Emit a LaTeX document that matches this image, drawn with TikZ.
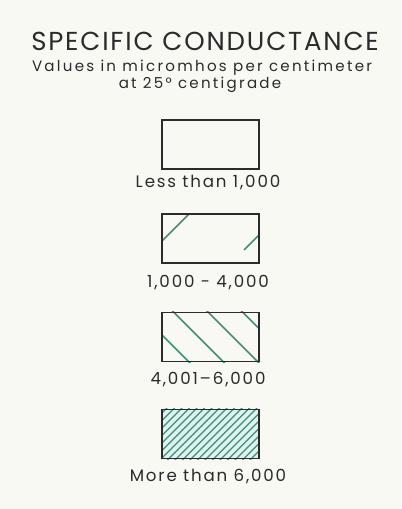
\documentclass[tikz,border=0pt]{standalone}
\usepackage{fontspec}
\setmainfont{Poppins}
\newfontfamily\lettering[LetterSpace=7]{Poppins}
\newfontfamily\smalllettering[LetterSpace=11]{Poppins}
\newfontfamily\widelettering[LetterSpace=15]{Poppins}
\usetikzlibrary{positioning}
\definecolor{paper}{HTML}{F9F9F4}
\definecolor{ink}{HTML}{2B2B2B}
\definecolor{sea}{HTML}{3F8F78}
\definecolor{wash}{HTML}{DDF3EF}

\begin{document}
\begin{tikzpicture}[x=0.75pt,y=-0.75pt,text=ink,key/.style={draw=ink,line width=0.9pt,minimum width=72.75pt,minimum height=36.75pt,inner sep=0pt},hatch/.style={sea,line width=1.1pt},caption/.style={anchor=base,inner sep=0pt,font=\smalllettering\fontsize{12.5}{15}\selectfont},subcaption/.style={anchor=base,inner sep=0pt,font=\widelettering\fontsize{11.3}{14}\selectfont}]
 \fill[paper] (0,0) rectangle (401,509);
 \useasboundingbox (0,0) rectangle (401,509);
 \node[anchor=base,inner sep=0pt,font=\lettering\fontsize{19.5}{22}\selectfont] (title) at (205,51) {SPECIFIC CONDUCTANCE};
 \node[subcaption] (units) at (202,72) {Values in micromhos per centimeter};
 \node[subcaption] (temp) at (200,89) {at 25° centigrade};
 % legend boxes
 \node[key] (low) at (210.5,144.5) {};
 \node[caption] (lowtext) at (208,188) {Less than 1,000};
 \node[key,fill=paper] (mid) at (210.5,238.5) {};
 \begin{scope}
  \clip (mid.south west) rectangle (mid.north east);
  \foreach \c in {403,494} \draw[hatch] (\c-250,250) -- (\c-200,200);
 \end{scope}
 \node[key] at (mid) {};
 \node[caption] (midtext) at (208,287) {1,000 - 4,000};
 \node[key] (high) at (210.5,337) {};
 \begin{scope}
  \clip (high.south west) rectangle (high.north east);
  \foreach \c in {173,138.5,104,69.5} \draw[hatch] (100,100+\c) -- (300,300+\c);
 \end{scope}
 \node[key] at (high) {};
 \node[caption] (hightext) at (208,384) {4,001–6,000};
 \node[key,fill=wash] (top) at (210.5,434) {};
 \begin{scope}
  \clip (top.south west) rectangle (top.north east);
  \foreach \k in {0,...,20} \draw[hatch,line width=0.9pt] (560+7.5*\k-470,470) -- (560+7.5*\k-400,400);
 \end{scope}
 \node[key] at (top) {};
 \node[caption] (toptext) at (208,481) {More than 6,000};
\end{tikzpicture}
\end{document}
